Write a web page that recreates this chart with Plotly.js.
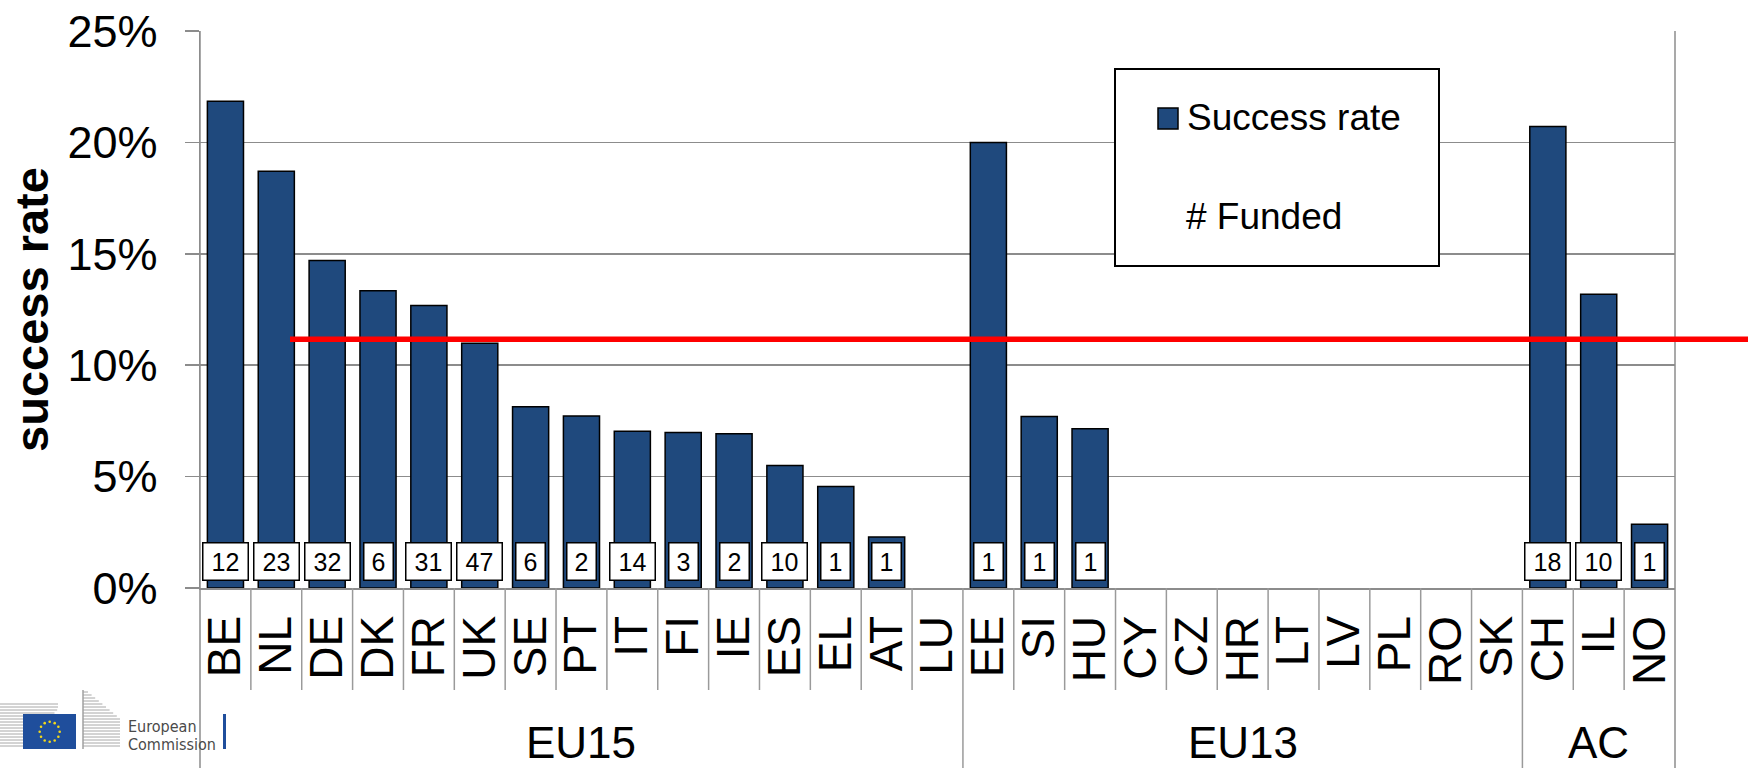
<!DOCTYPE html>
<html><head><meta charset="utf-8">
<script src="https://cdn.plot.ly/plotly-3.0.1.min.js"></script>
<style>html,body{margin:0;padding:0;background:#fff;}#chart{width:1748px;height:768px;}</style>
</head><body><div id="chart"></div>
<script>
// ---- data ----
const countries = ['BE','NL','DE','DK','FR','UK','SE','PT','IT','FI','IE','ES','EL','AT','LU','EE','SI','HU','CY','CZ','HR','LT','LV','PL','RO','SK','CH','IL','NO'];
const successRate = [21.85,18.71,14.70,13.34,12.68,10.99,8.13,7.72,7.04,6.98,6.92,5.50,4.56,2.29,0,20.0,7.70,7.15,0,0,0,0,0,0,0,0,20.71,13.18,2.86];
const funded = [12,23,32,6,31,47,6,2,14,3,2,10,1,1,null,1,1,1,null,null,null,null,null,null,null,null,18,10,1];
const groups = ['EU15','EU13','AC'];
const groupSizes = [15,11,3];
const averageRate = 11.17;
const yTicks = [0,5,10,15,20,25];
const yTickLabels = ['0%','5%','10%','15%','20%','25%'];
const legendLabels = ['Success rate','# Funded'];

// ---- style ----
const FONT = 'Liberation Sans, Arial, sans-serif';
const BLUE = '#1F497D';
const GRID = '#8c8c8c';
const W = 1748, H = 768, ML = 200, MR = 73, MT = 31, MB = 180;
const PW = W - ML - MR, PH = H - MT - MB;
const px = v => (v - ML) / PW;      // pixel -> paper x
const py = v => (H - MB - v) / PH;  // pixel -> paper y

const shapes = [];
const annotations = [];

// category boundary ticks and group separators
const groupEnds = [];
let acc = 0;
groupSizes.forEach(s => { acc += s; groupEnds.push(acc); });
for (let k = 1; k < countries.length; k++) {
  const isGroup = groupEnds.includes(k);
  shapes.push({type:'line', xref:'x', yref:'paper', x0:k-0.5, x1:k-0.5, y0:0, y1: isGroup ? py(H) : py(690),
    line:{color:'#9a9a9a', width:1.5}, layer:'above'});
}
// outer frame lines extending to bottom
shapes.push({type:'line', xref:'paper', yref:'paper', x0:0, x1:0, y0:1, y1:py(H), line:{color:GRID, width:1.5}});
shapes.push({type:'line', xref:'paper', yref:'paper', x0:1, x1:1, y0:1, y1:py(H), line:{color:GRID, width:1.5}});

// average line
shapes.push({type:'line', xref:'paper', yref:'y', x0:px(290), x1:1.1, y0:averageRate, y1:averageRate,
  line:{color:'#ff0000', width:5.5}, layer:'above'});

// legend box
shapes.push({type:'rect', xref:'paper', yref:'paper', x0:px(1115), x1:px(1439), y0:py(266), y1:py(69),
  fillcolor:'#ffffff', line:{color:'#000000', width:2}, layer:'above'});
shapes.push({type:'rect', xref:'paper', yref:'paper', x0:px(1158), x1:px(1178), y0:py(129), y1:py(108),
  fillcolor:BLUE, line:{color:'#000000', width:1.5}, layer:'above'});
annotations.push({xref:'paper', yref:'paper', x:px(1185), y:py(118), xanchor:'left', yanchor:'middle',
  text:legendLabels[0], showarrow:false, font:{family:FONT, size:37, color:'#000'}});
annotations.push({xref:'paper', yref:'paper', x:px(1184), y:py(216), xanchor:'left', yanchor:'middle',
  text:legendLabels[1], showarrow:false, font:{family:FONT, size:37, color:'#000'}});

// funded count boxes
funded.forEach((v, i) => {
  if (v === null) return;
  const digits = String(v).length;
  annotations.push({x:countries[i], y:0, xref:'x', yref:'y', yanchor:'bottom', yshift:7,
    text:String(v), showarrow:false, font:{family:FONT, size:25, color:'#000'},
    bgcolor:'#ffffff', bordercolor:'#000000', borderwidth:1.5, borderpad:1,
    width: digits === 1 ? 26 : 42, height:34});
});

// group labels
let start = 0;
groups.forEach((g, gi) => {
  const center = start + (groupSizes[gi] - 1) / 2;
  annotations.push({x:center, xref:'x', yref:'paper', y:py(768), yanchor:'bottom', xanchor:'center',
    text:g, showarrow:false, font:{family:FONT, size:44, color:'#000'}, borderpad:0});
  start += groupSizes[gi];
});

// European Commission logo (decorative)
const stripe = (x0, x1, y) => ({type:'line', xref:'paper', yref:'paper', x0:px(x0), x1:px(x1), y0:py(y), y1:py(y), line:{color:'#a8a8a8', width:1}});
for (let y = 704; y <= 748; y += 3) {
  const xe = Math.min(58, 23 + (748 - y) * 0.9);
  shapes.push(stripe(0, xe, y));
}
for (let y = 692; y <= 748; y += 3) {
  const xe = Math.min(120, 88 + (y - 692) * 1.2);
  shapes.push(stripe(83, xe, y));
}
shapes.push({type:'line', xref:'paper', yref:'paper', x0:px(83), x1:px(83), y0:py(690), y1:py(749), line:{color:'#a0a0a0', width:1.5}});
shapes.push({type:'rect', xref:'paper', yref:'paper', x0:px(23), x1:px(76), y0:py(749), y1:py(714),
  fillcolor:'#1f4e9c', line:{width:0}});
for (let s = 0; s < 12; s++) {
  const a = s * Math.PI / 6;
  const cx = 49.7 + 10 * Math.cos(a), cy = 731.8 + 10 * Math.sin(a);
  shapes.push({type:'circle', xref:'paper', yref:'paper', x0:px(cx-1.3), x1:px(cx+1.3), y0:py(cy+1.3), y1:py(cy-1.3),
    fillcolor:'#f2d81c', line:{width:0}});
}
shapes.push({type:'rect', xref:'paper', yref:'paper', x0:px(223), x1:px(226), y0:py(749), y1:py(714),
  fillcolor:'#1f4e9c', line:{width:0}});
const LOGOFONT = 'Liberation Sans Narrow, DejaVu Sans Condensed, sans-serif';
annotations.push({xref:'paper', yref:'paper', x:px(126), y:py(726), xanchor:'left', yanchor:'middle',
  text:'European', showarrow:false, font:{family:LOGOFONT, size:16, color:'#4a4a4a'}});
annotations.push({xref:'paper', yref:'paper', x:px(126), y:py(744), xanchor:'left', yanchor:'middle',
  text:'Commission', showarrow:false, font:{family:LOGOFONT, size:16, color:'#4a4a4a'}});

const trace = {
  type:'bar', x:countries, y:successRate, width:0.71,
  marker:{color:BLUE, line:{color:'#000000', width:successRate.map(v => v > 0 ? 1.5 : 0)}},
  hoverinfo:'none', showlegend:false
};

const layout = {
  width:W, height:H,
  margin:{l:ML, r:MR, t:MT, b:MB, autoexpand:false},
  paper_bgcolor:'#ffffff', plot_bgcolor:'#ffffff',
  showlegend:false,
  xaxis:{type:'category', range:[-0.5, countries.length - 0.5], tickangle:-90,
    tickmode:'array', tickvals:countries, ticktext:countries,
    tickfont:{family:FONT, size:46, color:'#000'}, ticks:'', showgrid:false,
    showline:true, linecolor:GRID, linewidth:1.5, automargin:false, ticklabelstandoff:8, fixedrange:true},
  yaxis:{range:[0,25], tickmode:'array', tickvals:yTicks, ticktext:yTickLabels, ticks:'outside', ticklen:14, tickcolor:GRID, tickwidth:1.5,
    tickfont:{family:FONT, size:45, color:'#000'}, ticklabelstandoff:18,
    showgrid:true, gridcolor:GRID, gridwidth:1.5, zeroline:false,
    showline:true, linecolor:GRID, linewidth:1.5, automargin:false,
    title:{text:'success rate', font:{family:FONT, size:47, color:'#000', weight:'bold'}, standoff:4}},
  shapes:shapes,
  annotations:annotations
};

Plotly.newPlot('chart', [trace], layout, {displayModeBar:false, staticPlot:true});
</script>
</body></html>
